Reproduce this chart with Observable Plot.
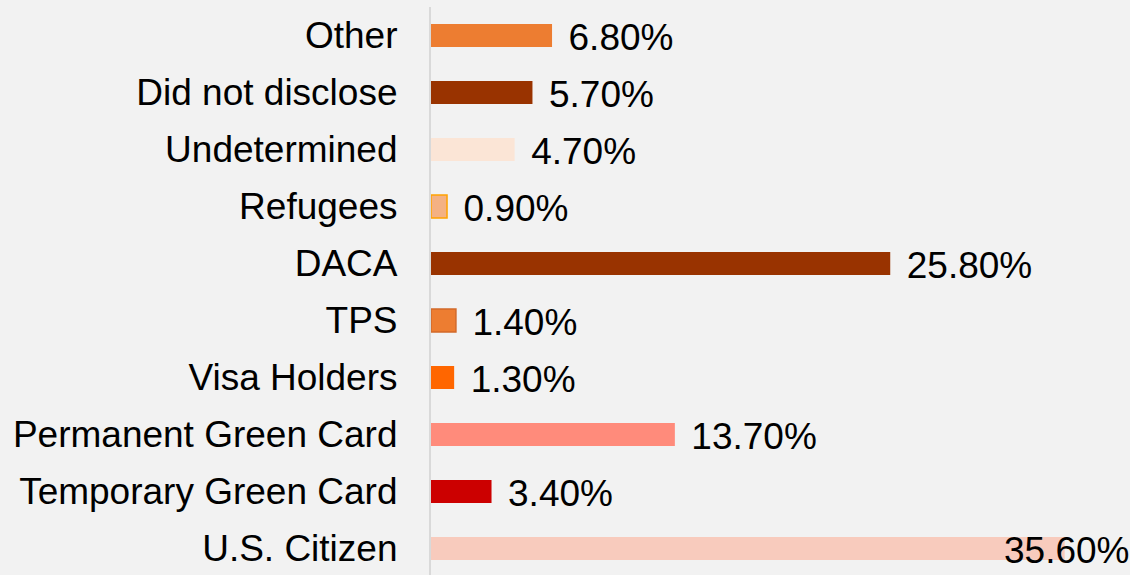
<!DOCTYPE html>
<html>
<head>
<meta charset="utf-8">
<script src="https://cdn.jsdelivr.net/npm/d3@7"></script>
<script src="https://cdn.jsdelivr.net/npm/@observablehq/plot@0.6"></script>
<style>
  html, body { margin: 0; padding: 0; background: #f2f2f2; }
  #chart svg { display: block; }
  #chart svg, #chart svg text { font-family: "Liberation Sans", Arial, sans-serif !important; }
</style>
</head>
<body>
<div id="chart"></div>
<script>
const categories = ["Other", "Did not disclose", "Undetermined", "Refugees", "DACA", "TPS", "Visa Holders", "Permanent Green Card", "Temporary Green Card", "U.S. Citizen"];
const values = [6.8, 5.7, 4.7, 0.9, 25.8, 1.4, 1.3, 13.7, 3.4, 35.6];
const fills = ["#ED7D31", "#993300", "#FBE5D6", "#F4B183", "#993300", "#ED7D31", "#FF6600", "#FF8B7B", "#CC0000", "#F8CBBD"];
const strokes = ["none", "none", "none", "#FFA200", "none", "#D2692A", "none", "none", "none", "none"];

const data = categories.map((c, i) => ({category: c, value: values[i], fill: fills[i], stroke: strokes[i]}));
const fmt = v => v.toFixed(2) + "%";
const font = "Liberation Sans, Arial, sans-serif";

const chart = Plot.plot({
  width: 1130,
  height: 575,
  marginLeft: 430,
  marginRight: 0,
  marginTop: 7,
  marginBottom: 0,
  style: {background: "#f2f2f2", fontFamily: font, fontSize: "37px", color: "#000"},
  x: {domain: [0, 39.27], range: [431, 1130], axis: null},
  y: {domain: categories, range: [6.4, 577.9], paddingInner: 0.6, paddingOuter: 0.3, label: null},
  marks: [
    Plot.axisY({tickSize: 0, tickPadding: 33, fontSize: 37, label: null}),
    Plot.barX(data, {x: "value", y: "category", fill: "fill", stroke: "stroke", strokeWidth: 1.5, inset: 0}),
    Plot.ruleX([0], {stroke: "#d9d9d9", strokeWidth: 2, dx: -1.5}),
    Plot.text(data.filter(d => d.value < 30), {x: "value", y: "category", text: d => fmt(d.value), textAnchor: "start", dx: 16, dy: 2, fontSize: 37, fill: "#000"}),
    Plot.text(data.filter(d => d.value >= 30), {y: "category", frameAnchor: "right", text: d => fmt(d.value), textAnchor: "end", dx: -1, dy: 2, fontSize: 37, fill: "#000"})
  ]
});
document.getElementById("chart").append(chart);
</script>
</body>
</html>
